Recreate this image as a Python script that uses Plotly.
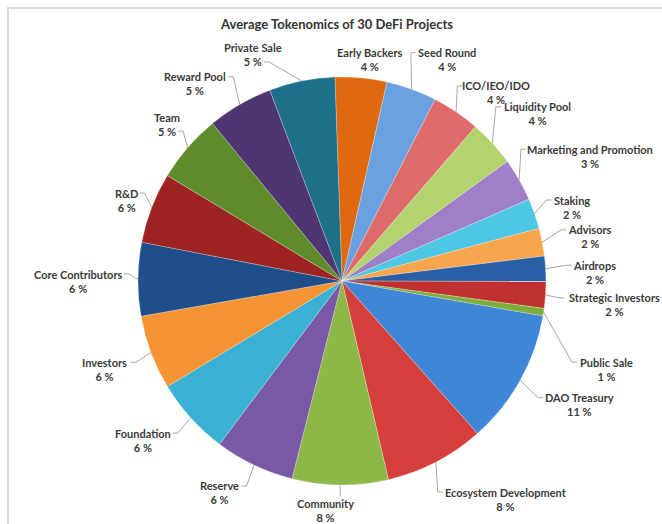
import math
import plotly.graph_objects as go

# ---- data -------------------------------------------------------------
title_text = "Average Tokenomics of 30 DeFi Projects"

categories = [
    "Early Backers", "Seed Round", "ICO/IEO/IDO", "Liquidity Pool",
    "Marketing and Promotion", "Staking", "Advisors", "Airdrops",
    "Strategic Investors", "Public Sale", "DAO Treasury",
    "Ecosystem Development", "Community", "Reserve", "Foundation",
    "Investors", "Core Contributors", "R&D", "Team", "Reward Pool",
    "Private Sale",
]

# average share of total token supply, in percent
shares = [
    4.1, 4.0, 3.8, 3.7,
    3.4, 2.4, 2.2, 2.0,
    2.1, 0.6, 10.7,
    7.9, 7.6, 6.3, 6.1,
    5.9, 5.8, 5.6, 5.4, 5.2,
    5.2,
]

colors = [
    "#E0690F", "#6AA1E0", "#DE6A6A", "#B3D46C",
    "#9F80C6", "#4EC7E4", "#F8A64E", "#2A5EA5",
    "#C0302E", "#7DAE3C", "#3F86D6",
    "#D5403C", "#8DB746", "#7A58A8", "#3AB0D2",
    "#F59433", "#1F4E8C", "#9E2421", "#5F8C2A", "#4F3572",
    "#1E6F8A",
]

# ---- geometry / styling ------------------------------------------------
W, H = 662, 524
CX, CY, R = 342, 281, 204
START_ANGLE = -2          # first slice starts just left of 12 o'clock
FONT = "Lato"
TEXT_COLOR = "#3a3a3a"
LEADER_COLOR = "#a6a6a6"
LABEL_SIZE = 11

# label placement: (angle from 12 o'clock, distance from centre in px, leader attach)
label_layout = [
    (7.2, 223, "none"), (25.4, 245, "L1"), (39.3, 243, "L1"), (49.4, 257, "L1"),
    (63.3, 278, "L1"), (72.2, 242, "L1"), (79.9, 252, "L1"), (88.0, 253, "L1"),
    (95.0, 274, "L1"), (108.4, 279, "L1"), (117.5, 268, "L1"),
    (143.0, 273, "L1"), (184.2, 230, "top"), (210.1, 245, "L1"), (231.4, 255, "L1"),
    (249.6, 253, "L1"), (270.0, 264, "L1"), (290.6, 230, "L1"), (311.9, 235, "L2"),
    (323.3, 246, "L1"), (338.5, 243, "L2"),
]


def px(x):
    return x / W


def py(y):
    return 1 - y / H


def text_width(s, size=LABEL_SIZE):
    w = 0.0
    for ch in s:
        if ch in "il.,'| ":
            w += 0.27
        elif ch in "ftrjI":
            w += 0.37
        elif ch in "MW":
            w += 0.86
        elif ch in "mw":
            w += 0.80
        elif ch.isupper():
            w += 0.64
        elif ch.isdigit():
            w += 0.58
        elif ch == "%":
            w += 0.78
        elif ch == "&":
            w += 0.72
        elif ch == "/":
            w += 0.40
        else:
            w += 0.54
    return w * size


fig = go.Figure()

fig.add_trace(go.Pie(
    labels=categories,
    values=shares,
    sort=False,
    direction="clockwise",
    rotation=START_ANGLE,
    textinfo="none",
    hovertemplate="%{label}: %{value:.1f} %<extra></extra>",
    marker=dict(colors=colors, line=dict(color="rgba(255,255,255,0.35)", width=0.7)),
    domain=dict(x=[px(CX - R), px(CX + R)], y=[py(CY + R), py(CY - R)]),
    showlegend=False,
))

annotations = []
shapes = []

total = sum(shares)
cum = 0.0
for cat, val, (la, ld, attach) in zip(categories, shares, label_layout):
    mid = math.radians(START_ANGLE + (cum + val / 2) / total * 360)
    cum += val
    line1 = cat
    line2 = f"{val:.0f} %"
    lx = CX + ld * math.sin(math.radians(la))
    ly = CY - ld * math.cos(math.radians(la))
    annotations.append(dict(
        x=px(lx), y=py(ly), xref="paper", yref="paper",
        text=f"{line1}<br>{line2}", showarrow=False,
        xanchor="center", yanchor="middle", align="center",
        font=dict(family=FONT, size=LABEL_SIZE, color=TEXT_COLOR, weight="bold"),
    ))

    if attach == "none":
        continue
    sx = CX + R * math.sin(mid)
    sy = CY - R * math.cos(mid)
    if attach == "top":
        ax, ay = sx, ly - 14
        path = f"M {px(sx)},{py(sy)} L {px(ax)},{py(ay)}"
    else:
        txt, yy = (line1, ly - 7) if attach == "L1" else (line2, ly + 7)
        half = text_width(txt) / 2 + 2
        if lx > sx:
            ax = lx - half
            stub = ax - 5
        else:
            ax = lx + half
            stub = ax + 5
        path = (f"M {px(sx)},{py(sy)} L {px(stub)},{py(yy)} "
                f"L {px(ax)},{py(yy)}")
    shapes.append(dict(type="path", path=path, xref="paper", yref="paper",
                       line=dict(color=LEADER_COLOR, width=1)))

# chart-area frame
shapes.append(dict(type="rect", xref="paper", yref="paper",
                   x0=px(8), y0=py(8), x1=px(W + 10), y1=py(H + 10),
                   line=dict(color="#d9d9d9", width=2), fillcolor="rgba(0,0,0,0)",
                   layer="below"))

fig.update_layout(
    width=W, height=H,
    margin=dict(l=0, r=0, t=0, b=0),
    paper_bgcolor="white",
    plot_bgcolor="white",
    title=dict(text=title_text, x=px(337), y=py(24), xanchor="center",
               yanchor="middle", xref="paper", yref="paper",
               font=dict(family=FONT, size=13, color="#333333", weight="bold")),
    annotations=annotations,
    shapes=shapes,
)

fig.write_html("out.html")
